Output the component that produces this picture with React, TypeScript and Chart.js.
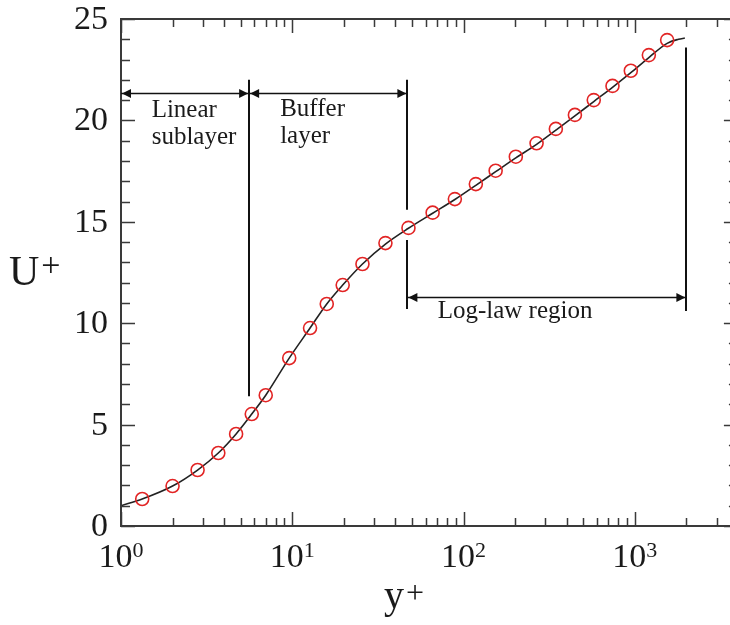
import React, { useEffect, useRef } from "react";
import { Chart, registerables } from "chart.js";

Chart.register(...registerables);

// ---- data ----
const markerYPlus = [1.33, 2.0, 2.8, 3.7, 4.7, 5.8, 7.0, 9.6, 12.7, 15.9, 19.7, 25.7, 35, 47.7, 66, 89, 118, 154, 202, 267, 346, 447, 576, 741, 948, 1208, 1545];
const markerUPlus = [1.33, 1.97, 2.76, 3.6, 4.54, 5.52, 6.45, 8.28, 9.76, 10.95, 11.88, 12.92, 13.95, 14.7, 15.45, 16.12, 16.86, 17.52, 18.21, 18.87, 19.58, 20.27, 21.0, 21.7, 22.45, 23.22, 23.96];

const curveYPlus = [1, 1.33, 2, 2.8, 3.7, 4.7, 5.8, 7, 9.6, 12.7, 15.9, 19.7, 25.7, 35, 47.7, 66, 89, 118, 154, 202, 267, 346, 447, 576, 741, 948, 1208, 1545, 1800, 1960];
const curveUPlus = [1.0, 1.33, 1.97, 2.76, 3.6, 4.54, 5.52, 6.45, 8.28, 9.76, 10.95, 11.88, 12.92, 13.9, 14.68, 15.42, 16.1, 16.8, 17.47, 18.15, 18.82, 19.52, 20.22, 20.93, 21.63, 22.35, 23.1, 23.8, 24.0, 24.06];

const xMin = 1;
const xMax = 4000;
const yMin = 0;
const yMax = 25;
const yMajorStep = 5;

// region dividers (vertical lines)
const dividerX = [5.6, 47, 47, 2000];
const dividerTop = [22.0, 22.0, 14.1, 23.6];
const dividerBottom = [6.4, 15.6, 10.7, 10.6];

// double-headed arrows
const arrowFrom = [1, 5.6, 47];
const arrowTo = [5.6, 47, 2000];
const arrowU = [21.35, 21.35, 11.3];

// region labels
const labelText = ["Linear", "sublayer", "Buffer", "layer", "Log-law region"];
const labelX = [1.51, 1.51, 8.5, 8.5, 70.6];
const labelU = [20.18, 18.86, 20.22, 18.87, 10.26];

const xTitle = "y";
const yTitle = "U";
const titleSup = "+";

const SERIF = "'Liberation Serif', 'Times New Roman', serif";
const AXIS = "#3a3a3a";
const TEXT = "#1a1a1a";
const RED = "rgb(226, 36, 36)";

const overlay = {
  id: "overlay",
  afterDraw(chart: any) {
    const { ctx, chartArea: a } = chart;
    const x = chart.scales.x;
    const y = chart.scales.y;
    ctx.save();

    // frame
    ctx.strokeStyle = AXIS;
    ctx.lineWidth = 2;
    ctx.strokeRect(a.left, a.top, a.right - a.left, a.bottom - a.top);

    // ticks (inward, mirrored)
    ctx.lineWidth = 1.5;
    ctx.beginPath();
    x.ticks.forEach((t: any) => {
      const v = t.value;
      if (v < xMin || v > xMax) return;
      const e = Math.floor(Math.log10(v) + 1e-9);
      const m = v / Math.pow(10, e);
      if (Math.abs(m - Math.round(m)) > 1e-6) return;
      const major = Math.round(m) === 1;
      const len = major ? 14 : 8;
      const px = Math.round(x.getPixelForValue(v)) + 0.5;
      ctx.moveTo(px, a.bottom);
      ctx.lineTo(px, a.bottom - len);
      ctx.moveTo(px, a.top);
      ctx.lineTo(px, a.top + len);
    });
    y.ticks.forEach((t: any) => {
      const v = t.value;
      const major = v % yMajorStep === 0;
      const len = major ? 14 : 9;
      const py = Math.round(y.getPixelForValue(v)) + 0.5;
      ctx.moveTo(a.left, py);
      ctx.lineTo(a.left + len, py);
      ctx.moveTo(a.right, py);
      ctx.lineTo(a.right - len, py);
    });
    ctx.stroke();

    // y tick labels
    ctx.fillStyle = TEXT;
    ctx.font = `34px ${SERIF}`;
    ctx.textAlign = "right";
    ctx.textBaseline = "middle";
    y.ticks.forEach((t: any) => {
      const v = t.value;
      if (v % yMajorStep !== 0) return;
      ctx.fillText(String(v), a.left - 13, y.getPixelForValue(v) + 1);
    });

    // x tick labels 10^n
    ctx.textBaseline = "alphabetic";
    ctx.textAlign = "left";
    x.ticks.forEach((t: any) => {
      const v = t.value;
      const e = Math.log10(v);
      if (Math.abs(e - Math.round(e)) > 1e-9) return;
      const px = x.getPixelForValue(v);
      ctx.font = `34px ${SERIF}`;
      const base = "10";
      const wb = ctx.measureText(base).width;
      ctx.font = `22px ${SERIF}`;
      const sup = String(Math.round(e));
      const ws = ctx.measureText(sup).width;
      const start = px - (wb + ws) / 2;
      ctx.font = `34px ${SERIF}`;
      ctx.fillText(base, start, a.bottom + 41);
      ctx.font = `22px ${SERIF}`;
      ctx.fillText(sup, start + wb, a.bottom + 31);
    });

    // axis titles
    ctx.font = `40px ${SERIF}`;
    ctx.fillText(xTitle, a.left + 263, a.bottom + 82);
    const wy = ctx.measureText(xTitle).width;
    ctx.font = `32px ${SERIF}`;
    ctx.fillText(titleSup, a.left + 263 + wy + 2, a.bottom + 77);

    ctx.font = `42px ${SERIF}`;
    ctx.fillText(yTitle, 9, 285);
    const wu = ctx.measureText(yTitle).width;
    ctx.font = `34px ${SERIF}`;
    ctx.fillText(titleSup, 9 + wu + 2, 276);

    // dividers
    ctx.strokeStyle = "#111";
    ctx.lineWidth = 2;
    ctx.beginPath();
    dividerX.forEach((dx, i) => {
      const px = Math.round(x.getPixelForValue(dx));
      ctx.moveTo(px, y.getPixelForValue(dividerTop[i]));
      ctx.lineTo(px, y.getPixelForValue(dividerBottom[i]));
    });
    ctx.stroke();

    // arrows
    ctx.fillStyle = "#111";
    ctx.lineWidth = 1.5;
    const head = (tipX: number, py: number, dir: number) => {
      ctx.beginPath();
      ctx.moveTo(tipX, py);
      ctx.lineTo(tipX - dir * 9, py - 4.5);
      ctx.lineTo(tipX - dir * 9, py + 4.5);
      ctx.closePath();
      ctx.fill();
    };
    arrowFrom.forEach((fx, i) => {
      const x1 = x.getPixelForValue(fx);
      const x2 = x.getPixelForValue(arrowTo[i]);
      const py = Math.round(y.getPixelForValue(arrowU[i])) + 0.5;
      ctx.beginPath();
      ctx.moveTo(x1, py);
      ctx.lineTo(x2, py);
      ctx.stroke();
      head(x1 + 1, py, -1);
      head(x2 - 1, py, 1);
    });

    // region labels
    ctx.fillStyle = TEXT;
    ctx.font = `25px ${SERIF}`;
    ctx.textAlign = "left";
    ctx.textBaseline = "alphabetic";
    labelText.forEach((txt, i) => {
      ctx.fillText(txt, x.getPixelForValue(labelX[i]), y.getPixelForValue(labelU[i]));
    });

    ctx.restore();
  },
};

export default function App() {
  const ref = useRef<HTMLCanvasElement | null>(null);

  useEffect(() => {
    document.body.style.margin = "0";
    document.documentElement.style.overflow = "hidden";
    document.body.style.overflow = "hidden";
    const canvas = ref.current;
    if (!canvas) return;

    const chart = new Chart(canvas, {
      type: "scatter",
      data: {
        datasets: [
          {
            label: "DNS",
            data: markerYPlus.map((v, i) => ({ x: v, y: markerUPlus[i] })),
            showLine: false,
            pointStyle: "circle",
            pointRadius: 6.5,
            pointBorderWidth: 1.6,
            pointBorderColor: RED,
            pointBackgroundColor: "rgba(0,0,0,0)",
            borderColor: RED,
            backgroundColor: "rgba(0,0,0,0)",
          },
          {
            label: "Profile",
            data: curveYPlus.map((v, i) => ({ x: v, y: curveUPlus[i] })),
            showLine: true,
            pointRadius: 0,
            borderColor: "#222",
            borderWidth: 1.6,
            cubicInterpolationMode: "monotone",
            fill: false,
          },
        ],
      },
      options: {
        responsive: false,
        animation: false,
        devicePixelRatio: 1,
        layout: { padding: { top: 19, right: 2, left: 0, bottom: 0 } },
        plugins: {
          legend: { display: false },
          tooltip: { enabled: false },
          title: { display: false },
        },
        scales: {
          x: {
            type: "logarithmic",
            min: xMin,
            max: xMax,
            grid: { display: false },
            border: { display: false },
            ticks: { display: false },
            afterFit: (s: any) => {
              s.height = 99;
            },
          },
          y: {
            type: "linear",
            min: yMin,
            max: yMax,
            grid: { display: false, drawTicks: false },
            border: { display: false },
            ticks: { display: false, stepSize: 1, autoSkip: false, maxTicksLimit: 100 },
            afterFit: (s: any) => {
              s.width = 121;
            },
          },
        },
      } as any,
      plugins: [overlay],
    });

    return () => chart.destroy();
  }, []);

  return (
    <div style={{ width: 730, height: 625, overflow: "hidden", position: "relative" }}>
      <div style={{ width: 746, height: 625, position: "absolute", left: 0, top: 0 }}>
        <canvas ref={ref} width={746} height={625} style={{ display: "block", width: 746, height: 625 }} />
      </div>
    </div>
  );
}
